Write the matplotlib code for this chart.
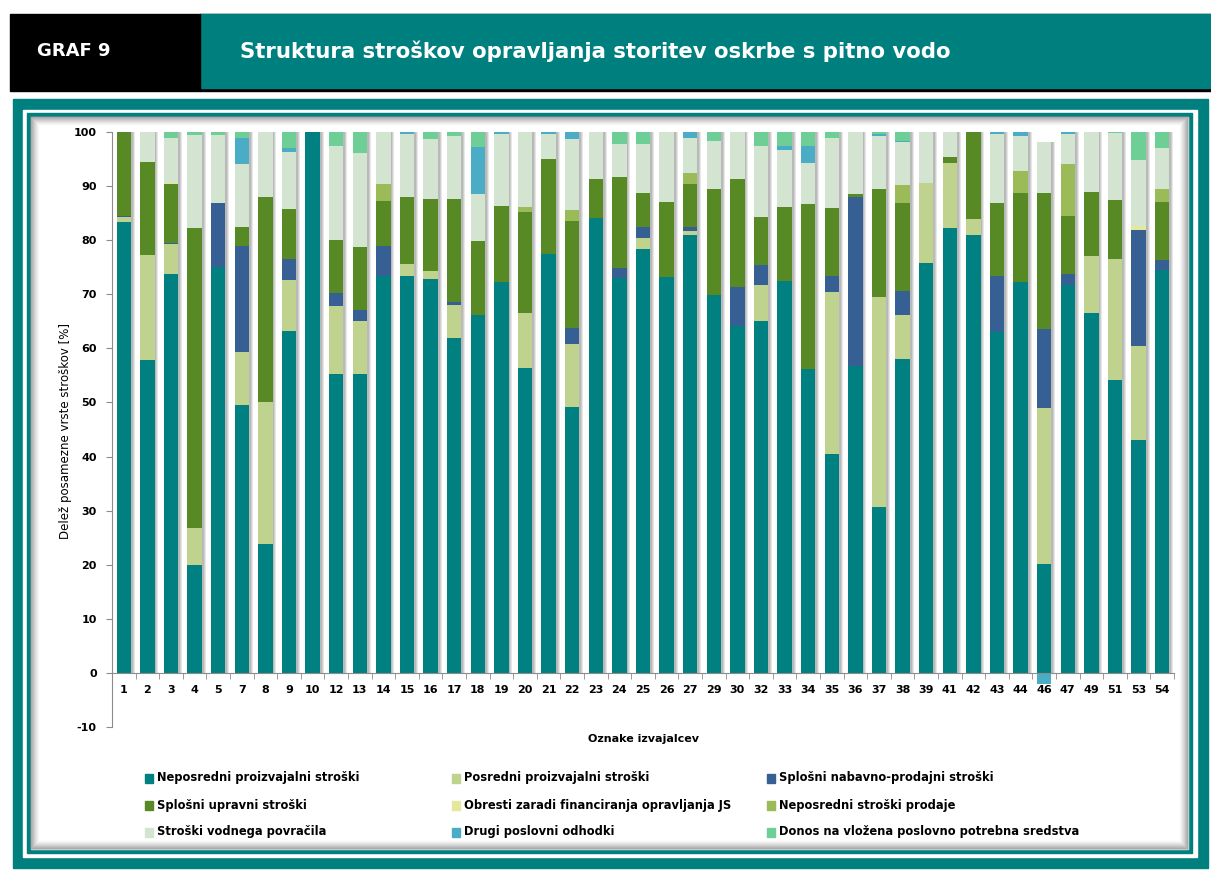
import numpy as np
import matplotlib
matplotlib.use("Agg")
from matplotlib import pyplot as plt
from matplotlib.patches import Rectangle

plt.rcParams["axes.unicode_minus"] = False


# Podatki ----------------------------->>>>>
izvajalci = ["1", "2", "3", "4", "5", "7", "8", "9", "10", "12", "13", "14", "15",
             "16", "17", "18", "19", "20", "21", "22", "23", "24", "25", "26", "27",
             "29", "30", "32", "33", "34", "35", "36", "37", "38", "39", "41", "42",
             "43", "44", "46", "47", "49", "51", "53", "54"]

neposredni_proizv = [83.3, 57.9, 73.8, 20.0, 75.0, 49.6, 23.9, 63.2, 100.0, 55.3, 55.3, 73.3, 73.3,
                     72.9, 62.0, 66.1, 72.2, 56.4, 77.4, 49.2, 84.1, 73.1, 78.3, 73.2, 80.9,
                     69.8, 64.1, 65.0, 72.5, 56.1, 40.5, 56.8, 30.7, 58.0, 75.8, 82.3, 80.9,
                     63.0, 72.2, 20.2, 71.8, 66.6, 54.2, 43.1, 74.4]
posredni_proizv = [0.9, 19.3, 5.5, 6.7, 0, 9.7, 26.2, 9.5, 0, 12.5, 9.8, 0, 2.3,
                   1.4, 6.1, 0, 0, 10.2, 0, 11.6, 0, 0, 2.1, 0, 0.8,
                   0, 0, 6.7, 0, 0, 30.0, 0, 38.8, 8.2, 14.8, 12.0, 3.0,
                   0, 0, 28.8, 0, 10.4, 22.4, 17.4, 0]
nabavno_prodajni = [0.2, 0, 0.2, 0, 11.8, 19.7, 0, 3.9, 0, 2.5, 2.0, 5.7, 0,
                    0, 0.4, 0, 0, 0, 0, 2.9, 0, 1.8, 2.1, 0, 0.8,
                    0, 7.2, 3.8, 0, 0, 2.9, 31.1, 0, 4.4, 0, 0, 0,
                    10.4, 0, 14.5, 1.9, 0, 0, 21.4, 2.0]
upravni = [15.6, 17.3, 10.9, 55.5, 0, 3.5, 37.9, 9.2, 0, 9.7, 11.7, 8.3, 12.4,
           13.4, 19.1, 13.7, 14.1, 18.7, 17.6, 19.9, 7.2, 16.8, 6.3, 13.9, 7.9,
           19.6, 20.1, 8.8, 13.7, 30.5, 12.5, 0.6, 20.0, 16.2, 0, 1.1, 16.1,
           13.4, 16.6, 25.3, 10.8, 12.0, 10.8, 0, 10.7]
obresti = [0, 0, 0.2, 0, 0, 0, 0, 0, 0, 0, 0, 0, 0,
           0, 0, 0, 0, 0, 0, 0, 0, 0, 0, 0, 0,
           0, 0, 0, 0, 0, 0, 0, 0, 0, 0, 0, 0,
           0, 0, 0, 0, 0, 0, 0.7, 0]
neposredni_prodaje = [0, 0, 0, 0, 0, 0, 0, 0, 0, 0, 0, 3.0, 0,
                      0, 0, 0, 0, 0.9, 0, 2.0, 0, 0, 0, 0, 2.0,
                      0, 0, 0, 0, 0, 0, 0, 0, 3.4, 0, 0, 0,
                      0, 4.0, 0, 9.5, 0, 0, 0, 2.3]
vodno_povracilo = [0, 5.5, 8.3, 17.3, 12.6, 11.5, 12.0, 10.5, 0, 17.4, 17.4, 9.7, 11.6,
                   11.0, 11.6, 8.8, 13.3, 13.8, 4.6, 13.1, 8.7, 6.0, 8.9, 12.9, 6.5,
                   9.0, 8.6, 13.1, 10.5, 7.6, 13.0, 11.5, 9.7, 7.9, 9.4, 4.6, 0,
                   12.8, 6.4, 9.4, 5.6, 11.0, 12.4, 12.2, 7.7]
drugi_odhodki = [0, 0, 0, 0, 0, 4.9, 0, 0.7, 0, 0, 0, 0, 0.4,
                 0, 0, 8.6, 0.4, 0, 0.4, 1.3, 0, 0, 0, 0, 1.1,
                 0, 0, 0, 0.8, 3.3, 0, 0, 0.5, 0.3, 0, 0, 0,
                 0.4, 0.8, -2.0, 0.4, 0, 0, 0, 0]
donos = [0, 0, 1.1, 0.5, 0.6, 1.1, 0, 3.0, 0, 2.6, 3.8, 0, 0,
         1.3, 0.8, 2.8, 0, 0, 0, 0, 0, 2.3, 2.3, 0, 0,
         1.6, 0, 2.6, 2.5, 2.5, 1.1, 0, 0.3, 1.6, 0, 0, 0,
         0, 0, 0, 0, 0, 0.2, 5.2, 2.9]

imena = ["Neposredni proizvajalni stroški", "Posredni proizvajalni stroški",
         "Splošni nabavno-prodajni stroški", "Splošni upravni stroški",
         "Obresti zaradi financiranja opravljanja JS", "Neposredni stroški prodaje",
         "Stroški vodnega povračila", "Drugi poslovni odhodki",
         "Donos na vložena poslovno potrebna sredstva"]
serije = [neposredni_proizv, posredni_proizv, nabavno_prodajni, upravni, obresti,
          neposredni_prodaje, vodno_povracilo, drugi_odhodki, donos]
barve = ["#008080", "#c0d38e", "#365f93", "#578a24", "#e4e89a",
         "#9bbb59", "#d3e4d0", "#4bacc6", "#6dcf96"]

TEAL = "#007f7f"


# Figura ----------------------------->>>>>
fig = plt.figure(figsize=(12.11, 8.75), dpi=100)

# Ozadje v pikslih (okvir in glava):
bg = fig.add_axes([0, 0, 1, 1], zorder=0)
bg.set_xlim(0, 1211)
bg.set_ylim(875, 0)
bg.axis("off")

bg.add_patch(Rectangle((200, 14), 1011, 77, color="black"))
bg.add_patch(Rectangle((200, 14), 1011, 74, color=TEAL))
bg.add_patch(Rectangle((10, 14), 190, 77, color="black"))
bg.text(37, 51, "GRAF 9", color="white", fontsize=13, fontweight="bold", va="center")
bg.text(240, 51, "Struktura stroškov opravljanja storitev oskrbe s pitno vodo",
        color="white", fontsize=15.3, fontweight="bold", va="center")

bg.add_patch(Rectangle((12.7, 99), 1195.3, 769, color=TEAL))
bg.add_patch(Rectangle((23.3, 110), 1173.7, 747, color="white"))
bg.add_patch(Rectangle((26.7, 113.3), 1165.3, 739.7, color=TEAL))
bg.add_patch(Rectangle((30.7, 117.3), 1157.3, 731.7, color="white"))

# Senca znotraj okvirja:
for k in range(9):
    bg.add_patch(Rectangle((30.7 + k, 117.3 + k), 1157.3 - 2 * k, 731.7 - 2 * k,
                           fill=False, lw=1.2, ec="#6f6f6f", alpha=0.45 * (1 - k / 9) ** 1.5))


# Graf ----------------------------->>>>>
ax = fig.add_axes([112 / 1211, 1 - 727 / 875, 1062 / 1211, 595 / 875], zorder=1)
ax.patch.set_alpha(0)

x = np.arange(len(izvajalci))
sirina = 0.61
podatki = np.array(serije, dtype=float)
skupaj = np.clip(podatki, 0, None).sum(axis=0)

# Senca stolpcev:
for odmik, a in [(0.16, 0.18), (0.12, 0.22), (0.08, 0.25)]:
    ax.bar(x + odmik, skupaj, sirina, color="#7a7a7a", alpha=a, lw=0, zorder=1)

dno_poz = np.zeros(len(izvajalci))
dno_neg = np.zeros(len(izvajalci))
for vrednosti, barva in zip(podatki, barve):
    dno = np.where(vrednosti >= 0, dno_poz, dno_neg)
    ax.bar(x, vrednosti, sirina, bottom=dno, color=barva, lw=0, zorder=2)
    dno_poz = dno_poz + np.clip(vrednosti, 0, None)
    dno_neg = dno_neg + np.clip(vrednosti, None, 0)

ax.set_xlim(-0.5, len(izvajalci) - 0.5)
ax.set_ylim(-10, 100)
ax.set_yticks(np.arange(-10, 101, 10))
ax.set_xticks(x)
ax.set_xticklabels(izvajalci)
ax.set_xticks(np.arange(-0.5, len(izvajalci), 1), minor=True)

for s in ["top", "right"]:
    ax.spines[s].set_visible(False)
ax.spines["bottom"].set_position(("data", 0))
ax.spines["left"].set_color("#8c8c8c")
ax.spines["bottom"].set_color("#8c8c8c")
ax.tick_params(axis="y", length=4, color="#8c8c8c", pad=7)
ax.tick_params(axis="x", which="major", length=0, pad=9)
ax.tick_params(axis="x", which="minor", length=4, color="#8c8c8c")
for lab in ax.get_xticklabels() + ax.get_yticklabels():
    lab.set_fontsize(8)
    lab.set_fontweight("bold")

fig.text(66 / 1211, 1 - 431 / 875, "Delež posamezne vrste stroškov [%]", rotation=90,
         ha="center", va="center", fontsize=8.5)
fig.text(643 / 1211, 1 - 739 / 875, "Oznake izvajalcev", ha="center", va="center",
         fontsize=8, fontweight="bold")

# Legenda (3 stolpci, po vrsticah):
stolpci_x = [145, 452, 767]
vrstice_y = [778, 805, 832]
for i, (ime, barva) in enumerate(zip(imena, barve)):
    lx = stolpci_x[i % 3]
    ly = vrstice_y[i // 3]
    bg.add_patch(Rectangle((lx, ly - 4.5), 8, 9, color=barva))
    bg.text(lx + 12, ly, ime, fontsize=8.3, fontweight="bold", va="center")

plt.savefig("out.png", dpi=100)
